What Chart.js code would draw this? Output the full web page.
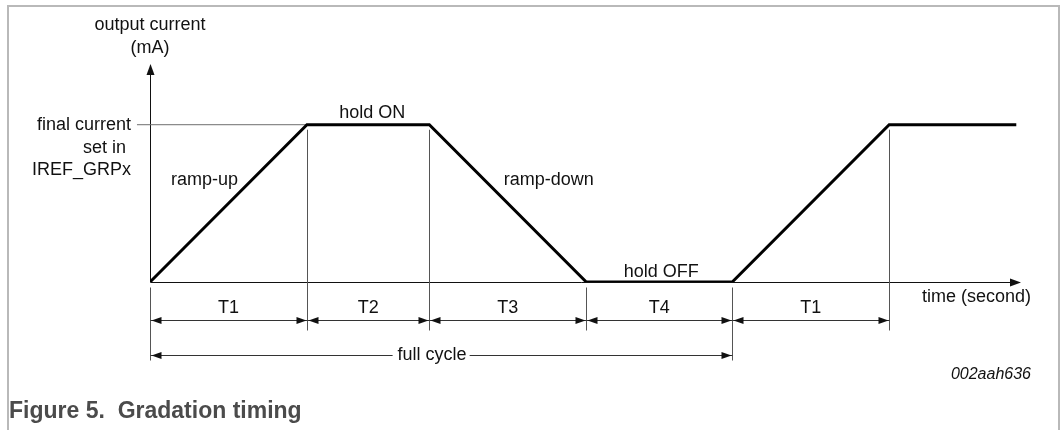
<!DOCTYPE html>
<html>
<head>
<meta charset="utf-8">
<title>Gradation timing</title>
<script src="https://cdn.jsdelivr.net/npm/chart.js@4.4.0/dist/chart.umd.min.js"></script>
<style>
  html, body { margin: 0; padding: 0; background: #fff; }
  canvas { display: block; }
</style>
</head>
<body>
<canvas id="timing" width="1062" height="430"></canvas>
<script>
/**
 * Gradation timing - output current waveform drawn with Chart.js.
 */
// waveform breakpoints: time in units of T1, current relative to the final current
var timePoints = [0, 1.0, 1.78, 2.78, 3.71, 4.71, 5.52];
var currentValues = [0, 1, 1, 0, 0, 1, 1];

// timing intervals below the time axis
var phaseLabels = ['T1', 'T2', 'T3', 'T4', 'T1'];
var phaseStarts = [0, 1.0, 1.78, 2.78, 3.71];
var phaseEnds = [1.0, 1.78, 2.78, 3.71, 4.71];
var fullCycle = [0, 3.71];

// labels of the waveform segments (segment i runs from timePoints[i] to timePoints[i+1])
var segmentLabels = ['ramp-up', 'hold ON', 'ramp-down', 'hold OFF'];
var levelLabel = ['final current', 'set in', 'IREF_GRPx'];
var finalCurrent = 1;

(function() {
    'use strict';

    var FONT = "'Liberation Sans', Arial, Helvetica, sans-serif";
    var INK = '#111';

    function arrowHead(ctx, x, y, angle, len, half) {
        ctx.save();
        ctx.translate(x, y);
        ctx.rotate(angle);
        ctx.beginPath();
        ctx.moveTo(0, 0);
        ctx.lineTo(-len, -half);
        ctx.lineTo(-len, half);
        ctx.closePath();
        ctx.fill();
        ctx.restore();
    }

    function hLine(ctx, x1, x2, y) {
        ctx.beginPath();
        ctx.moveTo(x1, y);
        ctx.lineTo(x2, y);
        ctx.stroke();
    }

    function vLine(ctx, x, y1, y2) {
        ctx.beginPath();
        ctx.moveTo(x, y1);
        ctx.lineTo(x, y2);
        ctx.stroke();
    }

    function dimension(ctx, x1, x2, y) {
        hLine(ctx, x1, x2, y);
        arrowHead(ctx, x1 + 1, y, Math.PI, 10, 3.5);
        arrowHead(ctx, x2 - 1, y, 0, 10, 3.5);
    }

    function currentAt(t) {
        for (var i = 0; i < timePoints.length; i++) {
            if (Math.abs(timePoints[i] - t) < 1e-6) return currentValues[i];
        }
        return 0;
    }

    var timingPlugin = {
        id: 'timing',
        beforeDatasetsDraw: function(chart) {
            var ctx = chart.ctx;
            var xs = chart.scales.x, ys = chart.scales.y;
            var area = chart.chartArea;
            var px = function(v) { return Math.round(xs.getPixelForValue(v)) + 0.5; };
            var x0 = px(0);
            var y0 = Math.round(ys.getPixelForValue(0)) + 0.5;
            var yLevel = ys.getPixelForValue(finalCurrent);

            ctx.save();
            // frame
            ctx.strokeStyle = '#b9b9b9';
            ctx.lineWidth = 2;
            ctx.beginPath();
            ctx.moveTo(8, 430);
            ctx.lineTo(8, 6);
            ctx.lineTo(1059, 6);
            ctx.lineTo(1059, 430);
            ctx.stroke();

            // axes
            ctx.strokeStyle = INK;
            ctx.fillStyle = INK;
            ctx.lineWidth = 1;
            vLine(ctx, x0, y0, area.top + 8);
            arrowHead(ctx, x0, area.top, -Math.PI / 2, 11, 4);
            hLine(ctx, x0, area.right - 8, y0);
            arrowHead(ctx, area.right, y0, 0, 11, 4);

            // guide lines at phase boundaries
            ctx.strokeStyle = '#555';
            var bounds = phaseStarts.concat([phaseEnds[phaseEnds.length - 1]]);
            bounds.forEach(function(t) {
                var x = px(t);
                var isCycleEnd = (t === fullCycle[0] || t === fullCycle[1]);
                var bottom = y0 + (isCycleEnd ? 78 : 48);
                var top = currentAt(t) === finalCurrent ? yLevel + 5 : y0 + 5;
                vLine(ctx, x, top, bottom);
            });

            // dimension arrows
            ctx.strokeStyle = '#333';
            ctx.fillStyle = INK;
            for (var i = 0; i < phaseLabels.length; i++) {
                dimension(ctx, px(phaseStarts[i]), px(phaseEnds[i]), y0 + 38);
            }
            dimension(ctx, px(fullCycle[0]), px(fullCycle[1]), y0 + 73);
            ctx.restore();
        },
        afterDraw: function(chart) {
            var ctx = chart.ctx;
            var xs = chart.scales.x, ys = chart.scales.y;
            var area = chart.chartArea;
            var x0 = xs.getPixelForValue(0);
            var y0 = ys.getPixelForValue(0);
            var yLevel = ys.getPixelForValue(finalCurrent);

            ctx.save();
            ctx.fillStyle = INK;
            ctx.textBaseline = 'middle';
            ctx.font = '18px ' + FONT;

            // y axis title
            ctx.textAlign = 'center';
            ctx.fillText('output current', x0, 25);
            ctx.fillText('(mA)', x0, 48);

            // final current label
            ctx.textAlign = 'right';
            ctx.fillText(levelLabel[0], x0 - 19, yLevel);
            ctx.fillText(levelLabel[1], x0 - 24, yLevel + 23);
            ctx.fillText(levelLabel[2], x0 - 19, yLevel + 45);

            // segment labels
            var offsets = [[-24, -23], [4, -12], [41, -23], [2, -10]];
            ctx.textAlign = 'center';
            segmentLabels.forEach(function(label, i) {
                var xa = xs.getPixelForValue(timePoints[i]);
                var xb = xs.getPixelForValue(timePoints[i + 1]);
                var ya = ys.getPixelForValue(currentValues[i]);
                var yb = ys.getPixelForValue(currentValues[i + 1]);
                ctx.fillText(label, (xa + xb) / 2 + offsets[i][0], (ya + yb) / 2 + offsets[i][1]);
            });

            // phase labels
            phaseLabels.forEach(function(label, i) {
                var xa = xs.getPixelForValue(phaseStarts[i]);
                var xb = xs.getPixelForValue(phaseEnds[i]);
                ctx.fillText(label, (xa + xb) / 2, y0 + 26);
            });

            // full cycle label on a white gap
            var fcX = (xs.getPixelForValue(fullCycle[0]) + xs.getPixelForValue(fullCycle[1])) / 2 - 9;
            var fcW = ctx.measureText('full cycle').width;
            ctx.fillStyle = '#fff';
            ctx.fillRect(fcX - fcW / 2 - 5, y0 + 66, fcW + 8, 14);
            ctx.fillStyle = INK;
            ctx.fillText('full cycle', fcX, y0 + 73);

            // time axis title
            ctx.textAlign = 'right';
            ctx.fillText('time (second)', area.right + 10, y0 + 15);

            ctx.font = 'italic 16px ' + FONT;
            ctx.fillText('002aah636', area.right + 10, y0 + 93);

            // caption
            ctx.textAlign = 'left';
            ctx.fillStyle = '#4b4b4b';
            ctx.font = 'bold 23px ' + FONT;
            ctx.fillText('Figure 5.  Gradation timing', 9, 412);
            ctx.restore();
        }
    };

    var waveform = timePoints.map(function(t, i) { return { x: t, y: currentValues[i] }; });
    var levelLine = [
        { x: -0.083, y: finalCurrent },
        { x: timePoints[1], y: finalCurrent }
    ];

    var canvas = document.getElementById('timing');
    new Chart(canvas, {
        type: 'line',
        data: {
            datasets: [{
                data: waveform,
                borderColor: '#000',
                borderWidth: 3,
                pointRadius: 0,
                tension: 0,
                fill: false
            }, {
                data: levelLine,
                borderColor: '#6e6e6e',
                borderWidth: 1,
                pointRadius: 0,
                tension: 0,
                fill: false,
                clip: false
            }]
        },
        options: {
            responsive: false,
            animation: false,
            devicePixelRatio: 1,
            layout: { padding: { left: 150, right: 41, top: 64, bottom: 148 } },
            scales: {
                x: { type: 'linear', display: false, min: 0, max: 5.55 },
                y: { type: 'linear', display: false, min: 0, max: 1.386 }
            },
            plugins: {
                legend: { display: false },
                tooltip: { enabled: false }
            }
        },
        plugins: [timingPlugin]
    });
})();
</script>
</body>
</html>
